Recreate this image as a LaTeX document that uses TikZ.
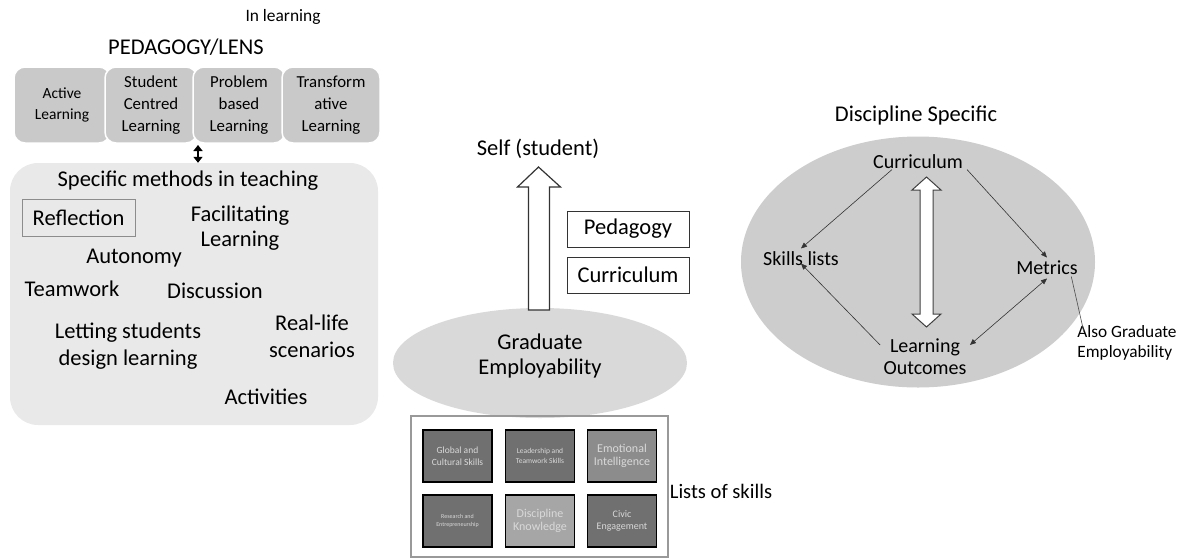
\documentclass[tikz,border=0pt]{standalone}
\usepackage{fontspec}
\setmainfont{Carlito}
\usetikzlibrary{shapes.geometric,arrows.meta}
\definecolor{lensgray}{RGB}{201,201,201}
\definecolor{methgray}{RGB}{233,233,233}
\definecolor{empgray}{RGB}{217,217,217}
\definecolor{discgray}{RGB}{205,205,205}
\definecolor{tiledark}{RGB}{112,112,112}
\definecolor{tilemid}{RGB}{140,140,140}
\definecolor{tilelight}{RGB}{166,166,166}
\newcommand{\txtsize}[2]{\fontsize{#1}{#2}\selectfont}

\begin{document}
\begin{tikzpicture}
  [x=1pt,y=-1pt,
   lens/.style={draw=white,line width=1.5pt,fill=lensgray,rounded corners=11pt,
     minimum height=76pt,align=center,font=\txtsize{16.8}{21.7}},
   big/.style={align=center,font=\txtsize{22.5}{25}},
   mid/.style={align=center,font=\txtsize{20}{22}},
   tile/.style={draw=black,line width=1.2pt,minimum width=69pt,minimum height=52pt,
     align=center,text=white!85!black},
   tip/.style={-{Triangle[length=6pt,width=5pt]}},
   hollow/.style={draw=black!80,line width=1.2pt,fill=white,line join=miter}]
  \useasboundingbox (0,0) rectangle (1184,558);

  % left: pedagogy / lens
  \node[font=\txtsize{17.4}{20}] (inl) at (283,17) {In learning};
  \node[font=\txtsize{22.5}{25}] (lens) at (186,47) {PEDAGOGY/LENS};
  \node[lens,minimum width=96pt,font=\txtsize{15.5}{21.7}] (ped1) at (62,105)  {Active\\Learning};
  \node[lens,minimum width=92pt] (ped2) at (151,105) {Student\\Centred\\Learning};
  \node[lens,minimum width=92pt] (ped3) at (239,105) {Problem\\based\\Learning};
  \node[lens,minimum width=98pt] (ped4) at (331,105) {Transform\\ative\\Learning};

  \node[fill=methgray,rounded corners=28pt,minimum width=368pt,minimum height=262pt] (meth) at (194,294) {};
  \coordinate (pj) at (198,145);
  \draw[{Triangle[length=6pt,width=9pt]}-{Triangle[length=6pt,width=9pt]},line width=2.6pt] (pj) -- (pj |- meth.north);

  \node[big] (spec) at (188,181) {Specific methods in teaching};
  \node[big,draw=black!45,line width=1pt,minimum width=113pt,minimum height=37pt] (refl) at (78.5,217.5) {Reflection};
  \node[big] (facl) at (240,228) {Facilitating\\Learning};
  \node[big] (auto) at (134,258) {Autonomy};
  \node[big] (team) at (72,289) {Teamwork};
  \node[big] (disc) at (215,291) {Discussion};
  \node[big,font=\txtsize{22.5}{27}] (lett) at (128,346) {Letting students\\design learning};
  \node[big,font=\txtsize{22.5}{27}] (real) at (312,336) {Real-life\\scenarios};
  \node[big] (acti) at (266,397) {Activities};

  % middle: graduate employability
  \node[ellipse,fill=empgray,minimum width=294pt,minimum height=110pt] (ge) at (540,363) {};
  \node[big] (get) at (540,356) {Graduate\\Employability};
  \node[big] (self) at (538,149) {Self (student)};
  \coordinate (st) at (538.5,167);
  \draw[hollow] (st) -- ++(22,20) -- ++(-11,0) -- ++(0,123) -- ++(-21,0) -- ++(0,-123) -- ++(-11,0) -- cycle;
  \node[big,draw=black!80,line width=1pt,minimum width=122pt,minimum height=36pt] (peda) at (628,229) {Pedagogy};
  \node[big,draw=black!80,line width=1pt,minimum width=122pt,minimum height=36pt] (curr) at (628,275) {Curriculum};

  \draw[black!40,line width=1.3pt] (411,416) rectangle (668,557);
  \node[tile,fill=tiledark,font=\txtsize{9.5}{12}] (t1) at (457.5,456) {Global and\\Cultural Skills};
  \node[tile,fill=tiledark,font=\txtsize{7.5}{10}] (t2) at (540,456) {Leadership and\\Teamwork Skills};
  \node[tile,fill=tilemid,font=\txtsize{12}{13.5}] (t3) at (622,456) {Emotional\\Intelligence};
  \node[tile,fill=tiledark,font=\txtsize{6}{8}] (t4) at (457.5,521) {Research and\\Entrepreneurship};
  \node[tile,fill=tilelight,font=\txtsize{12}{13.5}] (t5) at (540,521) {Discipline\\Knowledge};
  \node[tile,fill=tiledark,font=\txtsize{10}{12}] (t6) at (622,521) {Civic\\Engagement};
  \node[font=\txtsize{20.6}{23}] (lsk) at (721,491) {Lists of skills};

  % right: discipline specific
  \node[big] (dsp) at (916,115) {Discipline Specific};
  \node[ellipse,fill=discgray,minimum width=354pt,minimum height=251pt] (dse) at (918,262) {};
  \node[mid] (cur) at (918,162) {Curriculum};
  \node[mid] (skl) at (801,259) {Skills lists};
  \node[mid] (met) at (1047,268) {Metrics};
  \node[mid] (lo) at (925,357) {Learning\\Outcomes};
  \node[align=left,font=\txtsize{17.3}{20}] (also) at (1127,343) {Also Graduate\\Employability};

  \coordinate (dt) at (926.5,177);
  \coordinate (db) at (926.5,327);
  \draw[hollow,draw=black!75,line width=1pt] (dt) -- ++(14.5,13) -- ++(-8,0) -- ++(0,124) -- ++(8,0) -- (db) -- ++(-14.5,-13) -- ++(8,0) -- ++(0,-124) -- ++(-8,0) -- cycle;

  \coordinate (cl) at ([xshift=-26pt,yshift=3pt]cur.south);
  \coordinate (cr) at ([xshift=49pt,yshift=3pt]cur.south);
  \coordinate (sk) at ([yshift=6pt]skl.south);
  \coordinate (mt) at ([xshift=-10pt,yshift=2pt]met.south east);
  \coordinate (al) at ([xshift=10pt,yshift=-10pt]also.north west);
  \foreach \from/\to in
  {cl/skl.north, cr/met.north, lo.165/sk}
    \draw[tip,black!80,line width=0.6pt] (\from) -- (\to);
  \draw[{Triangle[length=6pt,width=5pt]}-{Triangle[length=6pt,width=5pt]},black!80,line width=0.6pt] (met.south) -- (lo.15);
  \draw[black!70,line width=0.6pt] (mt) -- (al);
\end{tikzpicture}
\end{document}
